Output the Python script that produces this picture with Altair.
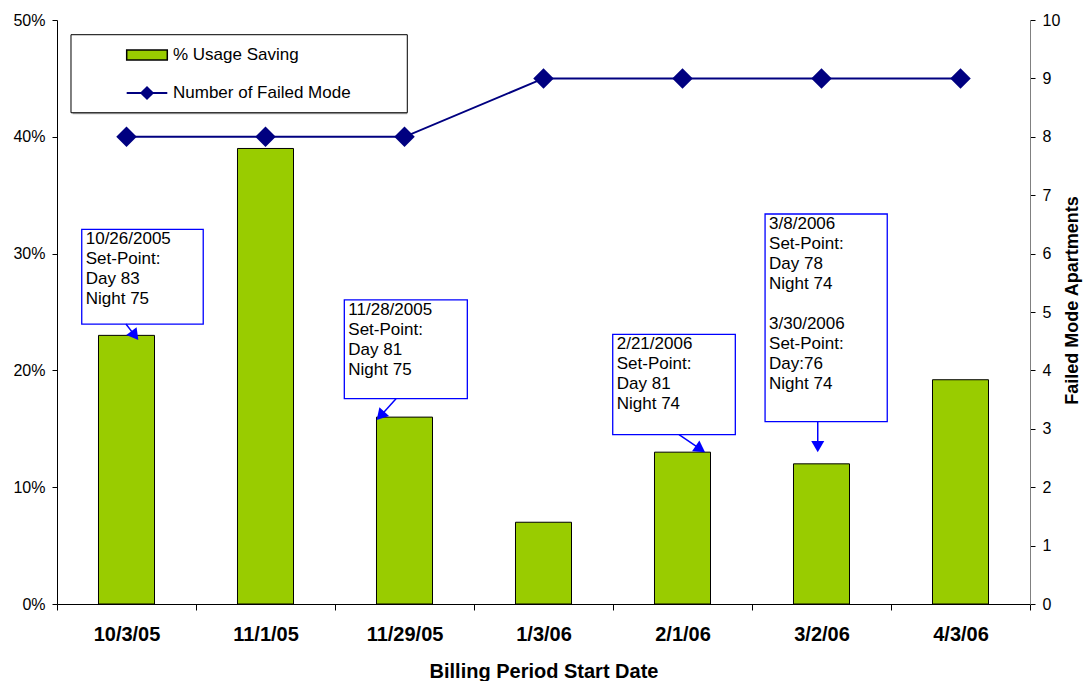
import math
import altair as alt
import pandas as pd

# ---------------- data ----------------
dates = ["10/3/05", "11/1/05", "11/29/05", "1/3/06", "2/1/06", "3/2/06", "4/3/06"]
usage_saving = [0.23, 0.39, 0.16, 0.07, 0.13, 0.12, 0.192]
failed_mode = [8, 8, 8, 9, 9, 9, 9]

# each note: list of paragraphs (separated by one blank line)
note_texts = [
    ["10/26/2005\nSet-Point:\nDay 83\nNight 75"],
    ["11/28/2005\nSet-Point:\nDay 81\nNight 75"],
    ["2/21/2006\nSet-Point:\nDay 81\nNight 74"],
    ["3/8/2006\nSet-Point:\nDay 78\nNight 74", "3/30/2006\nSet-Point:\nDay:76\nNight 74"],
]
# annotation boxes in data units (x: category position 0..7, y: saving fraction)
note_x1 = [0.178, 2.067, 3.998, 5.094]
note_x2 = [1.052, 2.952, 4.880, 5.973]
note_ytop = [0.3208, 0.2603, 0.2309, 0.3339]
note_ybot = [0.2397, 0.1758, 0.1450, 0.1561]
arrow_x_from = [0.496, 2.439, 4.475, 5.473]
arrow_x_to = [0.585, 2.300, 4.662, 5.473]
arrow_y_to = [0.2260, 0.1575, 0.1299, 0.1299]

legend_labels = ["% Usage Saving", "Number of Failed Mode"]

# ---------------- layout ----------------
PLOT_W, PLOT_H = 973, 584
N = len(dates)
SX = PLOT_W / N          # px per x unit
SY = PLOT_H / 0.5        # px per y unit (fraction)
LINE_H = 20
FONT = "Liberation Sans"
NAVY = "#000080"
GREEN = "#99CC00"
BLUE = "#0000FF"

df = pd.DataFrame({"date": dates, "saving": usage_saving, "failed": failed_mode})

# boxes + arrows
rows = []
trows = []
HEAD = 5.6
for i in range(len(note_texts)):
    x0, y0 = arrow_x_from[i], note_ybot[i]
    x1, y1 = arrow_x_to[i], arrow_y_to[i]
    dxp = (x1 - x0) * SX
    dyp = -(y1 - y0) * SY
    L = math.hypot(dxp, dyp)
    ux, uy = dxp / L, dyp / L
    hx = x1 - ux * HEAD / SX
    hy = y1 + uy * HEAD / SY
    ang = math.degrees(math.atan2(dxp, -dyp)) % 360
    rows.append(dict(x1=note_x1[i], x2=note_x2[i], yt=note_ytop[i], yb=note_ybot[i],
                     ax0=x0, ay0=y0, ax1=hx, ay1=hy, hx=hx, hy=hy, ang=ang))
    nlines = 0
    for para in note_texts[i]:
        trows.append(dict(x=note_x1[i], y=note_ytop[i] - nlines * LINE_H / SY, text=para))
        nlines += para.count("\n") + 2
notes = pd.DataFrame(rows)
note_lines = pd.DataFrame(trows)

xq = alt.Scale(domain=[0, N], nice=False, zero=False)
yq = alt.Scale(domain=[0, 0.5], nice=False, zero=False)

# ---------------- main layers ----------------
bars = alt.Chart(df).mark_bar(color=GREEN, stroke="black", strokeWidth=1,
                              width=alt.RelativeBandSize(0.403)).encode(
    x=alt.X("date:N", sort=dates,
            scale=alt.Scale(paddingInner=0, paddingOuter=0),
            axis=alt.Axis(title="Billing Period Start Date", labelAngle=0,
                          labelFontSize=20, labelFontWeight="bold",
                          titleFontSize=20, titleFontWeight="bold",
                          tickBand="extent", tickSize=6, labelPadding=14,
                          titlePadding=17)),
    y=alt.Y("saving:Q", scale=alt.Scale(domain=[0, 0.5], nice=False),
            axis=alt.Axis(format=".0%", values=[0, 0.1, 0.2, 0.3, 0.4, 0.5],
                          title=None, labelFontSize=16, tickSize=5,
                          labelPadding=7)),
)

line_base = alt.Chart(df).encode(
    x=alt.X("date:N", sort=dates, axis=None),
    y=alt.Y("failed:Q", scale=alt.Scale(domain=[0, 10], nice=False),
            axis=alt.Axis(orient="right", values=list(range(0, 11)),
                          title="Failed Mode Apartments", titleAngle=270,
                          titleFontSize=18, titleFontWeight="bold",
                          labelFontSize=16, tickSize=5, labelPadding=7,
                          domainColor="#808080", titlePadding=22, titleY=280)),
)
line = line_base.mark_line(color=NAVY, strokeWidth=2)
pts = line_base.mark_point(shape="diamond", filled=True, size=420, color=NAVY, opacity=1)
line_layer = alt.layer(line, pts)

# ---------------- annotations ----------------
nb = alt.Chart(notes)
boxes = nb.mark_rect(fill="white", stroke=BLUE, strokeWidth=1.3).encode(
    x=alt.X("x1:Q", scale=xq, axis=None), x2="x2:Q",
    y=alt.Y("yt:Q", scale=yq, axis=None), y2="yb:Q")
texts = alt.Chart(note_lines).mark_text(
    align="left", baseline="top", lineBreak="\n", fontSize=17,
    lineHeight=LINE_H, font=FONT, color="black", dx=4, dy=2).encode(
    x=alt.X("x:Q", scale=xq, axis=None), y=alt.Y("y:Q", scale=yq, axis=None),
    text="text:N")
arrows = nb.mark_rule(color=BLUE, strokeWidth=1.5).encode(
    x=alt.X("ax0:Q", scale=xq, axis=None), x2="ax1:Q",
    y=alt.Y("ay0:Q", scale=yq, axis=None), y2="ay1:Q")
heads = nb.mark_point(shape="triangle-up", filled=True, size=170, color=BLUE, opacity=1).encode(
    x=alt.X("hx:Q", scale=xq, axis=None), y=alt.Y("hy:Q", scale=yq, axis=None),
    angle=alt.Angle("ang:Q", scale=None))

# ---------------- legend ----------------
leg_box = pd.DataFrame([dict(x1=0.1007, x2=2.5201, yt=0.4874, yb=0.4206)])
leg_shadow = pd.DataFrame([dict(x1=0.112, x2=2.5201, yt=0.4874, yb=0.4192)])
leg_sw = pd.DataFrame([dict(x1=0.5014, x2=0.7935, yt=0.4743, yb=0.4658)])
leg_line = pd.DataFrame([dict(x1=0.5014, x2=0.7935, y=0.4375, xm=0.6475)])
leg_txt = pd.DataFrame([dict(x=0.8345, y=0.4700, t=legend_labels[0]),
                        dict(x=0.8345, y=0.4375, t=legend_labels[1])])

lsh = alt.Chart(leg_shadow).mark_rect(fill="#B0B0B0").encode(
    x=alt.X("x1:Q", scale=xq, axis=None), x2="x2:Q",
    y=alt.Y("yt:Q", scale=yq, axis=None), y2="yb:Q")
lb = alt.Chart(leg_box).mark_rect(fill="white", stroke="black", strokeWidth=1).encode(
    x=alt.X("x1:Q", scale=xq, axis=None), x2="x2:Q",
    y=alt.Y("yt:Q", scale=yq, axis=None), y2="yb:Q")
ls = alt.Chart(leg_sw).mark_rect(fill=GREEN, stroke="black", strokeWidth=1.5).encode(
    x=alt.X("x1:Q", scale=xq, axis=None), x2="x2:Q",
    y=alt.Y("yt:Q", scale=yq, axis=None), y2="yb:Q")
ll = alt.Chart(leg_line).mark_rule(color=NAVY, strokeWidth=2).encode(
    x=alt.X("x1:Q", scale=xq, axis=None), x2="x2:Q",
    y=alt.Y("y:Q", scale=yq, axis=None))
lp = alt.Chart(leg_line).mark_point(shape="diamond", filled=True, size=200, color=NAVY, opacity=1).encode(
    x=alt.X("xm:Q", scale=xq, axis=None), y=alt.Y("y:Q", scale=yq, axis=None))
lt = alt.Chart(leg_txt).mark_text(align="left", baseline="middle", fontSize=17,
                                  font=FONT, color="black").encode(
    x=alt.X("x:Q", scale=xq, axis=None), y=alt.Y("y:Q", scale=yq, axis=None),
    text="t:N")

ann = alt.layer(lsh, lb, ls, ll, lp, lt, boxes, arrows, heads, texts)

chart = alt.layer(bars, line_layer, ann).resolve_scale(
    x="independent", y="independent"
).properties(
    width=PLOT_W, height=PLOT_H,
    autosize=alt.AutoSizeParams(type="none"),
    padding={"left": 57, "top": 20, "right": 56, "bottom": 77},
    background="white",
).configure_view(stroke=None).configure_axis(
    labelFont=FONT, titleFont=FONT, labelColor="black", titleColor="black",
    domainColor="black", tickColor="black", grid=False, domainWidth=1, tickWidth=1,
)

chart.save("out.html", embed_options={"renderer": "svg", "actions": False})
